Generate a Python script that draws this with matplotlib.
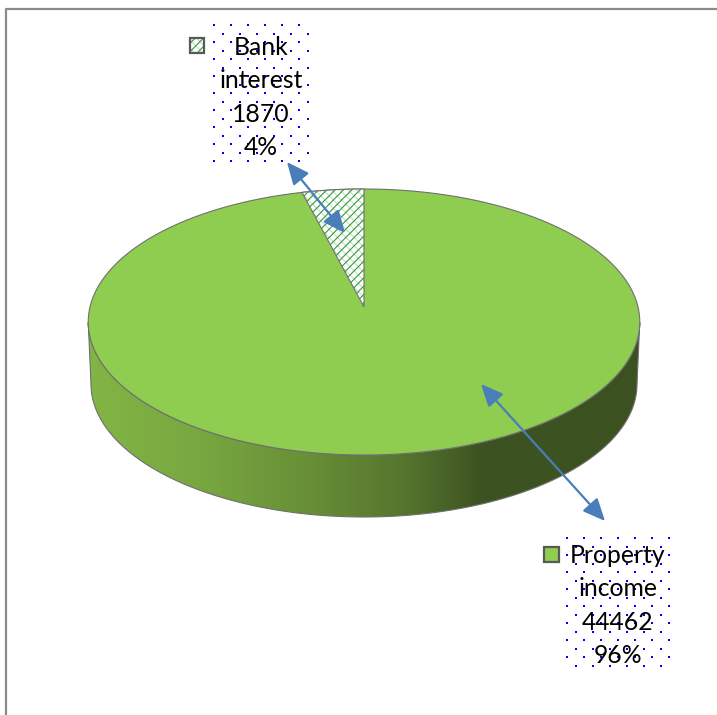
import numpy as np
import matplotlib
matplotlib.use('Agg')
from matplotlib import pyplot as plt
from matplotlib.colors import LinearSegmentedColormap
from matplotlib.patches import Polygon, Rectangle

categories = ['Bank\ninterest', 'Property\nincome']
values = [1870, 44462]
percent_labels = ['4%', '96%']

# pie shape in image pixels, a = half width, b = half height, p = perspective
CX, CY = 364, 307
A, B, P = 274, 131.3, 0.1128
DEPTH = 62

GREEN = '#8ecd50'
EDGE = '#707070'
BLUE = '#4a7ebb'


def project(theta):
    # angle in radians, 0 at the back of the pie, going to the left
    u, v = -np.sin(theta), np.cos(theta)
    d = 1 + P * v
    return CX + A * u / d, CY - B * v / d


def add_hatch(ax, patch_xy, zorder):
    ax.add_patch(Polygon(patch_xy, closed=True, fc='white', ec='#c3dfba', hatch='\\\\\\\\', lw=0, zorder=zorder))
    ax.add_patch(Polygon(patch_xy, closed=True, fc='none', ec='#2f9a3a', hatch='////', lw=0, zorder=zorder))


def dots(ax, x0, x1, y0, y1):
    # dotted label background
    xs, ys = [], []
    for i, y in enumerate(np.arange(y0, y1, 8.5)):
        for x in np.arange(x0 + (i % 2) * 8.5, x1, 17):
            xs.append(x)
            ys.append(y)
    ax.scatter(xs, ys, s=2.5, c='#0000ff', marker='s', lw=0, zorder=3)


def main():
    plt.rcParams['font.family'] = ['Lato', 'DejaVu Sans']
    plt.rcParams['hatch.linewidth'] = 0.8
    fig = plt.figure(figsize=(7.17, 7.15), dpi=100)
    ax = fig.add_axes([0, 0, 1, 1])

    t = np.linspace(0, 2 * np.pi, 721)
    px, py = project(t)

    # side of the pie
    low = py >= 322
    order = np.argsort(px[low])
    lx, ly = px[low][order], py[low][order]
    side = np.r_[np.c_[lx, ly], np.c_[CX + (lx - CX) * 0.99, ly + DEPTH][::-1]]
    cmap = LinearSegmentedColormap.from_list('side', [
        (0, '#82b545'), (0.2, '#78a740'), (0.4, '#688f37'),
        (0.58, '#54742d'), (0.71, '#3d5321'), (1, '#3c5120')])
    grad = ax.imshow(np.linspace(0, 1, 256)[None, :], cmap=cmap, extent=(88, 640, 517, 322),
                     aspect='auto', zorder=1)
    side_patch = Polygon(side, closed=True, fc='none', ec=EDGE, lw=0.8, zorder=1.5)
    ax.add_patch(side_patch)
    grad.set_clip_path(side_patch)

    # top of the pie, slices start at 12 o'clock
    angle = 2 * np.pi * values[0] / sum(values)
    ax.add_patch(Polygon(np.c_[px, py], closed=True, fc=GREEN, ec=EDGE, lw=0.8, zorder=2))
    tw = np.linspace(0, angle, 30)
    wx, wy = project(tw)
    wedge = np.r_[[[CX, CY]], np.c_[wx, wy]]
    add_hatch(ax, wedge, 2.2)
    ax.add_patch(Polygon(wedge, closed=True, fc='none', ec=EDGE, lw=0.8, zorder=2.4))

    # labels
    dots(ax, 214, 311, 25, 164)
    dots(ax, 567, 671, 538, 668)
    ax.text(261, 97.5, '%s\n%d\n%s' % (categories[0], values[0], percent_labels[0]), ha='center', va='center',
            fontsize=17.8, linespacing=1.55, color='black', zorder=4)
    ax.text(618, 605.5, '%s\n%d\n%s' % (categories[1], values[1], percent_labels[1]), ha='center', va='center',
            fontsize=17.8, linespacing=1.55, color='black', zorder=4)

    # legend keys
    key = [[190, 38], [204, 38], [204, 53], [190, 53]]
    add_hatch(ax, key, 4)
    ax.add_patch(Rectangle((190, 38), 14, 15, fc='none', ec='#595959', lw=1.6, zorder=4.2))
    ax.add_patch(Rectangle((544, 547), 15, 15, fc=GREEN, ec='#595959', lw=1.6, zorder=4))

    # leader arrows
    for a, b in [((287, 162), (345, 233)), ((481, 384), (605, 521))]:
        ax.annotate('', xy=a, xytext=b, zorder=5,
                    arrowprops=dict(arrowstyle='<|-|>,head_length=0.85,head_width=0.38', color=BLUE,
                                    lw=1.6, shrinkA=0, shrinkB=0, mutation_scale=16))

    # chart border
    ax.plot([6, 6, 717], [715, 9, 9], color='#8c8c8c', lw=1.6, zorder=6)

    ax.set_xlim(0, 717)
    ax.set_ylim(715, 0)
    ax.axis('off')
    fig.savefig('out.png', dpi=100)


if __name__ == '__main__':
    main()
